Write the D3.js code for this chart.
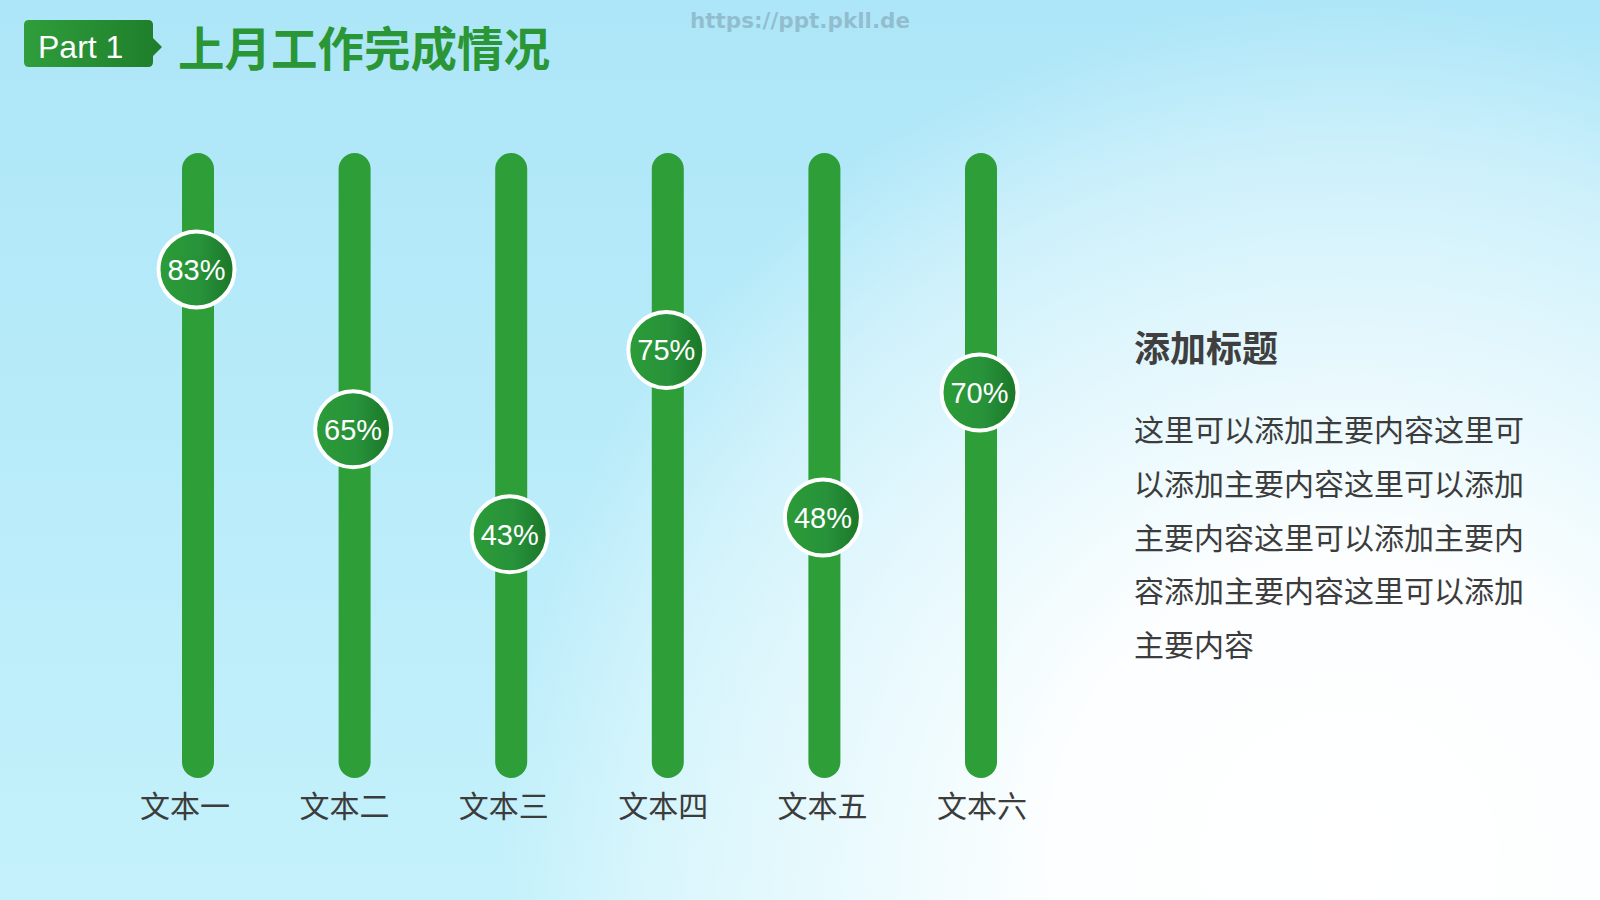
<!DOCTYPE html>
<html><head><meta charset="utf-8">
<script src="https://cdn.jsdelivr.net/npm/d3@7"></script>
<style>html,body{margin:0;padding:0;overflow:hidden;background:#fff}</style>
</head><body>
<script>
const categories = ["文本一","文本二","文本三","文本四","文本五","文本六"];
const values = [83,65,43,75,48,70];
const valueLabels = ["83%","65%","43%","75%","48%","70%"];
const headerTag = "Part 1";
const headerTitle = "上月工作完成情况";
const sideTitle = "添加标题";
const sideLines = ["这里可以添加主要内容这里可","以添加主要内容这里可以添加","主要内容这里可以添加主要内","容添加主要内容这里可以添加","主要内容"];
const watermark = "https://ppt.pkll.de";

const W = 1600, H = 900;
const svg = d3.select("body").append("svg").attr("width", W).attr("height", H);
const defs = svg.append("defs");

const bg = defs.append("linearGradient").attr("id","bg").attr("x1",0).attr("y1",0).attr("x2",0).attr("y2",1);
bg.append("stop").attr("offset","0%").attr("stop-color","#ade6f8");
bg.append("stop").attr("offset","100%").attr("stop-color","#c4f1fb");
const glow = defs.append("radialGradient").attr("id","glow").attr("gradientUnits","userSpaceOnUse")
  .attr("cx",1350).attr("cy",850).attr("r",1000);
[[0,1],[0.3,0.95],[0.7,0.35],[0.85,0]].forEach(([o,a])=>glow.append("stop").attr("offset",o).attr("stop-color","#fff").attr("stop-opacity",a));
const bub = defs.append("linearGradient").attr("id","bub").attr("x1",0).attr("y1",0).attr("x2",1).attr("y2",0);
bub.append("stop").attr("offset","0%").attr("stop-color","#2c9c37");
bub.append("stop").attr("offset","55%").attr("stop-color","#27923a");
bub.append("stop").attr("offset","100%").attr("stop-color","#1a7628");
const tag = defs.append("linearGradient").attr("id","tag").attr("x1",0).attr("y1",0).attr("x2",1).attr("y2",0);
tag.append("stop").attr("offset","0%").attr("stop-color","#2f9e3b");
tag.append("stop").attr("offset","100%").attr("stop-color","#1e7d2b");

svg.append("rect").attr("width",W).attr("height",H).attr("fill","url(#bg)");
svg.append("rect").attr("width",W).attr("height",H).attr("fill","url(#glow)");

// watermark
svg.append("text").attr("x",800).attr("y",28).attr("text-anchor","middle")
  .attr("font-family","DejaVu Sans").attr("font-weight","bold").attr("font-size",21.5)
  .attr("fill","#8db6c8").attr("fill-opacity",0.85).text(watermark);

// header badge
const bx0=24,bx1=153,by0=20,by1=67,r=5,tipX=162,ty0=38,ty1=56;
const p = d3.path();
p.moveTo(bx0+r,by0); p.lineTo(bx1-r,by0); p.quadraticCurveTo(bx1,by0,bx1,by0+r);
p.lineTo(bx1,ty0); p.lineTo(tipX,(ty0+ty1)/2); p.lineTo(bx1,ty1);
p.lineTo(bx1,by1-r); p.quadraticCurveTo(bx1,by1,bx1-r,by1);
p.lineTo(bx0+r,by1); p.quadraticCurveTo(bx0,by1,bx0,by1-r);
p.lineTo(bx0,by0+r); p.quadraticCurveTo(bx0,by0,bx0+r,by0); p.closePath();
svg.append("path").attr("d",p.toString()).attr("fill","url(#tag)");
svg.append("text").attr("x",38).attr("y",58).attr("font-family","Liberation Sans, Arial")
  .attr("font-size",32).attr("fill","#fff").text(headerTag);
svg.append("text").attr("x",178).attr("y",66).attr("font-family","Noto Sans CJK SC")
  .attr("font-weight",700).attr("font-size",46.5).attr("fill","#2a9636").text(headerTitle);

// chart
const x = d3.scalePoint().domain(categories).range([198, 981]);
const xLabel = d3.scalePoint().domain(categories).range([185, 982]);
const y = d3.scalePow().exponent(3).domain([0,100]).range([577,39]);
const railTop = 153, railBottom = 778, railW = 32;

const g = svg.append("g");
g.selectAll("rect.rail").data(categories).join("rect").attr("class","rail")
  .attr("x",d=>x(d)-railW/2).attr("y",railTop).attr("width",railW).attr("height",railBottom-railTop)
  .attr("rx",railW/2).attr("fill","#2e9e38");

const data = categories.map((c,i)=>({c, v:values[i], l:valueLabels[i]}));
const nodes = g.selectAll("g.node").data(data).join("g").attr("class","node")
  .attr("transform",d=>`translate(${x(d.c)-1.5},${y(d.v)})`);
nodes.append("circle").attr("r",38).attr("fill","url(#bub)").attr("stroke","#fff").attr("stroke-width",4);
nodes.append("text").attr("text-anchor","middle").attr("dy","0.36em")
  .attr("font-family","Liberation Sans, Arial").attr("font-size",29).attr("fill","#fff").text(d=>d.l);

g.selectAll("text.cat").data(categories).join("text").attr("class","cat")
  .attr("x",d=>xLabel(d)).attr("y",817).attr("text-anchor","middle")
  .attr("font-family","Noto Sans CJK SC").attr("font-size",30).attr("fill","#3c3c3c").text(d=>d);

// side text
svg.append("text").attr("x",1134).attr("y",362).attr("font-family","Noto Sans CJK SC")
  .attr("font-weight",700).attr("font-size",36).attr("fill","#3f3f3f").text(sideTitle);
svg.selectAll("text.side").data(sideLines).join("text").attr("class","side")
  .attr("x",1134).attr("y",(d,i)=>441+i*53.8).attr("font-family","Noto Sans CJK SC")
  .attr("font-size",30).attr("fill","#3c3c3c").text(d=>d);
</script>
</body></html>
